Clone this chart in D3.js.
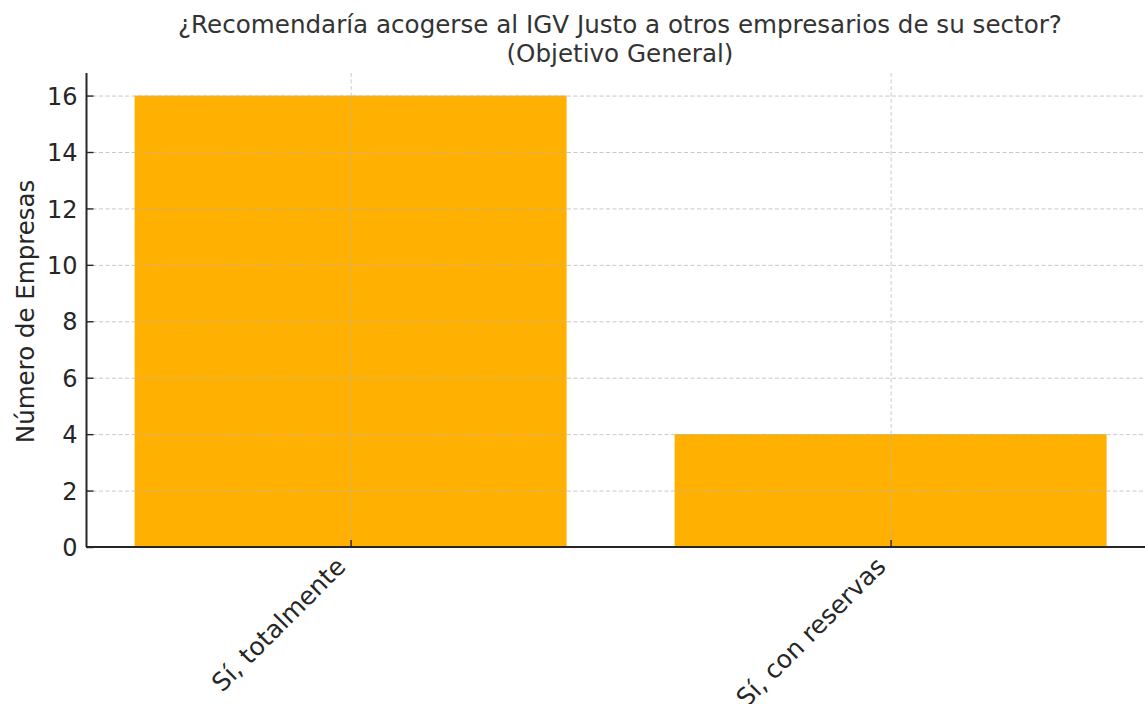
<!DOCTYPE html>
<html>
<head>
<meta charset="utf-8">
<script src="https://cdn.jsdelivr.net/npm/d3@7"></script>
<style>
	body { margin: 0; background: #fff; }
	text { font-family: 'DejaVu Sans', sans-serif; }
</style>
</head>
<body>
<div id="chart"></div>
<script>
const categories = ['Sí, totalmente', 'Sí, con reservas']
const counts = [16, 4]
const yTicks = [0, 2, 4, 6, 8, 10, 12, 14, 16]
const titleLines = ['¿Recomendaría acogerse al IGV Justo a otros empresarios de su sector?', '(Objetivo General)']

const width = 1145
const height = 704
const svg = d3.select('#chart').append('svg').attr('width', width).attr('height', height)

// x in "bar index" units, like matplotlib
const x = d3.scaleLinear().domain([-0.49, 1.49]).range([86, 1155.2])
const y = d3.scaleLinear().domain([0, 16.8]).range([547, 73])
const barWidth = 0.8

// bars
svg.append('g')
	.selectAll('rect')
	.data(counts)
	.enter()
	.append('rect')
	.attr('x', (d, i) => x(i - barWidth / 2))
	.attr('y', (d) => y(d))
	.attr('width', x(barWidth) - x(0))
	.attr('height', (d) => y(0) - y(d))
	.attr('fill', '#FFB000')

// grid on top
const grid = svg.append('g').attr('stroke', '#b0b0b0').attr('stroke-opacity', 0.7).attr('stroke-dasharray', '4,2.5').attr('stroke-width', 1)
grid.selectAll('.hg').data(yTicks).enter().append('line')
	.attr('x1', 86).attr('x2', width)
	.attr('y1', (d) => y(d) + 0.5).attr('y2', (d) => y(d) + 0.5)
grid.selectAll('.vg').data(categories).enter().append('line')
	.attr('x1', (d, i) => x(i) + 0.5).attr('x2', (d, i) => x(i) + 0.5)
	.attr('y1', y(16.8)).attr('y2', y(0))

// y axis (ticks point inward)
const yAxis = d3.axisLeft(y).tickValues(yTicks).tickSize(-7).tickPadding(9)
const gy = svg.append('g').attr('transform', 'translate(86.5,0)').call(yAxis)
gy.select('.domain').attr('stroke', '#262626').attr('stroke-width', 2).attr('d', `M0,${y(16.8)}V${y(0)}`)
gy.selectAll('.tick line').attr('stroke', '#262626').attr('stroke-width', 1.4)
gy.selectAll('.tick text').attr('fill', '#262626').style('font-size', '24px').attr('x', -9).attr('dy', '0.36em')

// x axis
const xAxis = d3.axisBottom(x).tickValues([0, 1]).tickFormat((d) => categories[d]).tickSize(0)
const gx = svg.append('g').attr('transform', 'translate(0,547)').call(xAxis)
gx.select('.domain').attr('stroke', '#262626').attr('stroke-width', 2).attr('d', `M86,0H${width}`)
gx.selectAll('.tick').append('line').attr('y1', 0).attr('y2', -7).attr('stroke', '#262626').attr('stroke-width', 1.4)
gx.selectAll('.tick text')
	.attr('fill', '#262626')
	.style('font-size', '25px')
	.attr('text-anchor', 'end')
	.attr('y', 0)
	.attr('dy', 0)
	.attr('transform', 'translate(-4,21) rotate(-45)')

// y label
svg.append('text')
	.attr('transform', `translate(34,${y(8.35)}) rotate(-90)`)
	.attr('text-anchor', 'middle')
	.attr('fill', '#262626')
	.style('font-size', '24.5px')
	.text('Número de Empresas')

// title
svg.append('g')
	.selectAll('text')
	.data(titleLines)
	.enter()
	.append('text')
	.attr('x', 620)
	.attr('y', (d, i) => 33 + i * 29)
	.attr('text-anchor', 'middle')
	.attr('fill', '#333')
	.style('font-size', '24.6px')
	.text((d) => d)
</script>
</body>
</html>
